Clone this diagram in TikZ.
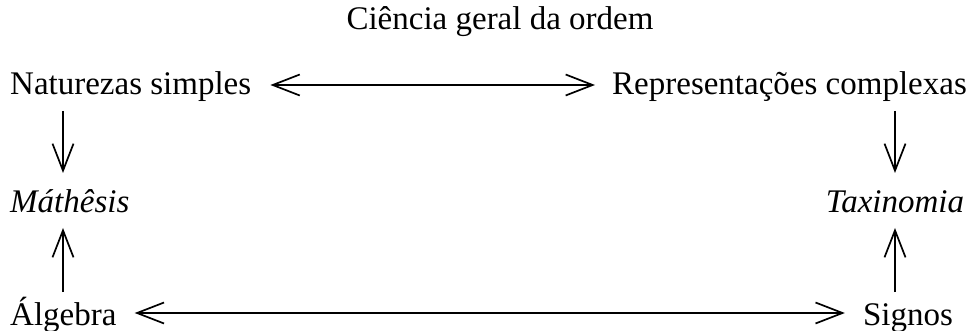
\documentclass[tikz,border=0pt]{standalone}
\usepackage{fontspec}
\setmainfont{Liberation Serif}
\usetikzlibrary{arrows.meta}
\begin{document}
\begin{tikzpicture}[x=1pt,y=1pt,
  lbl/.style={inner sep=0pt,font=\fontsize{33}{40}\selectfont},
  arr/.style={line width=1.7pt,{Straight Barb[length=27pt,width=21pt,line width=1.7pt]}-{Straight Barb[length=27pt,width=21pt,line width=1.7pt]}},
  arrto/.style={line width=1.7pt,-{Straight Barb[length=27pt,width=21pt,line width=1.7pt]}}]
\useasboundingbox (0,0) rectangle (977,-331);
\node[lbl,anchor=base] (cg) at (500,-30) {Ciência geral da ordem};
\node[lbl,anchor=base west] (nat) at (10,-95) {Naturezas simples};
\node[lbl,anchor=base east] (rep) at (967,-95) {Representações complexas};
\node[lbl,anchor=base west] (mat) at (10,-212) {\itshape Máthêsis};
\node[lbl,anchor=base] (tax) at (895,-212) {\itshape Taxinomia};
\node[lbl,anchor=base west] (alg) at (10,-325) {Álgebra};
\node[lbl,anchor=base] (sig) at (908,-325) {Signos};
% horizontal double arrows
\draw[arr] ([xshift=19pt,yshift=10pt]nat.base east) -- ([xshift=-17pt,yshift=10pt]rep.base west);
\draw[arr] ([xshift=18pt,yshift=12pt]alg.base east) -- ([xshift=-18pt,yshift=12pt]sig.base west);
% vertical arrows
\draw[arrto] ([xshift=53pt,yshift=-16pt]nat.base west) -- ([xshift=53pt,yshift=39pt]mat.base west);
\draw[arrto] ([xshift=53pt,yshift=33pt]alg.base west) -- ([xshift=53pt,yshift=-16pt]mat.base west);
\draw[arrto] ([yshift=-16pt]rep.base east -| tax.base) -- ([yshift=39pt]tax.base);
\draw[arrto] ([yshift=33pt]sig.base -| tax.base) -- ([yshift=-16pt]tax.base);
\end{tikzpicture}
\end{document}
